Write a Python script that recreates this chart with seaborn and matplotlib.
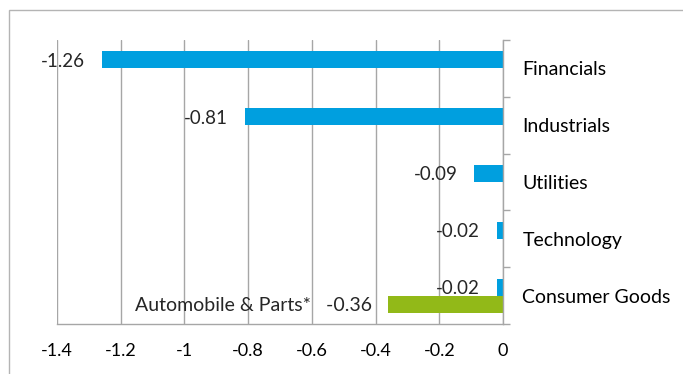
import numpy as np
import pandas as pd
import seaborn as sns
import matplotlib
matplotlib.use("Agg")
import matplotlib.pyplot as plt
from matplotlib.patches import Rectangle

sectors = ["Financials", "Industrials", "Utilities", "Technology", "Consumer Goods"]
sector_change = [-1.26, -0.81, -0.09, -0.02, -0.02]
auto_change = [np.nan, np.nan, np.nan, np.nan, -0.36]
auto_name = "Automobile & Parts*"
xticks = [-1.4, -1.2, -1.0, -0.8, -0.6, -0.4, -0.2, 0.0]
xtick_labels = ["-1.4", "-1.2", "-1", "-0.8", "-0.6", "-0.4", "-0.2", "0"]

BLUE = "#009FDF"
GREEN = "#92B918"
GRID = "#A6A6A6"
FS = 13.5

df = pd.DataFrame({
    "sector": sectors * 2,
    "value": sector_change + auto_change,
    "series": ["Sector"] * len(sectors) + ["Auto"] * len(sectors),
}).dropna()

sns.set_style("white")
plt.rcParams["font.family"] = ["Lato", "DejaVu Sans"]

fig = plt.figure(figsize=(6.83, 3.74), dpi=100)
ax = fig.add_axes([57 / 683, 1 - 324 / 374, (503 - 57) / 683, (324 - 40) / 374])

sns.barplot(data=df, y="sector", x="value", hue="series", order=sectors,
            hue_order=["Sector", "Auto"], palette=[BLUE, GREEN], saturation=1,
            width=0.6, orient="h", errorbar=None, linewidth=0,
            legend=False, ax=ax)

ax.set_xlim(-1.4, 0)
ax.set_ylim(len(sectors) - 0.5, -0.5)
ax.set_xticks(xticks)
ax.set_xticklabels(xtick_labels, fontsize=FS - 0.5)
ax.set_xlabel("")
ax.set_ylabel("")

ax.grid(axis="x", color=GRID, lw=1)
ax.grid(axis="y", visible=False)
ax.set_axisbelow(True)

for side in ("left", "top"):
    ax.spines[side].set_visible(False)
for side in ("right", "bottom"):
    ax.spines[side].set_color(GRID)
    ax.spines[side].set_linewidth(1)

ax.tick_params(axis="x", length=5, color=GRID, width=1, pad=9, labelcolor="black")

ax.yaxis.tick_right()
ax.set_yticks(range(len(sectors)))
ax.set_yticklabels(sectors, fontsize=FS + 0.5)
ax.set_yticks(np.arange(-0.5, len(sectors)), minor=True)
ax.tick_params(axis="y", which="major", length=0, pad=14, labelcolor="black")
ax.tick_params(axis="y", which="minor", length=5, color=GRID, width=1, direction="out")

blue_bars, green_bars = ax.containers[0], ax.containers[1]
texts = ax.bar_label(blue_bars, labels=[f"{v:.2f}" for v in sector_change],
                     padding=12, fontsize=FS)
auto_vals = [v for v in auto_change if not np.isnan(v)]
texts += ax.bar_label(green_bars, labels=[f"{auto_name}   {v:.2f}" for v in auto_vals],
                      padding=12, fontsize=FS + 0.5)
for t in texts:
    t.set_va("center_baseline")

fig.patches.append(Rectangle((8.5 / 683, -0.1), 1.2, 1 - 10.5 / 374 + 0.1,
                             transform=fig.transFigure, fill=False,
                             ec="#B4B4B4", lw=1))

fig.savefig("out.png", dpi=100, facecolor="white")
